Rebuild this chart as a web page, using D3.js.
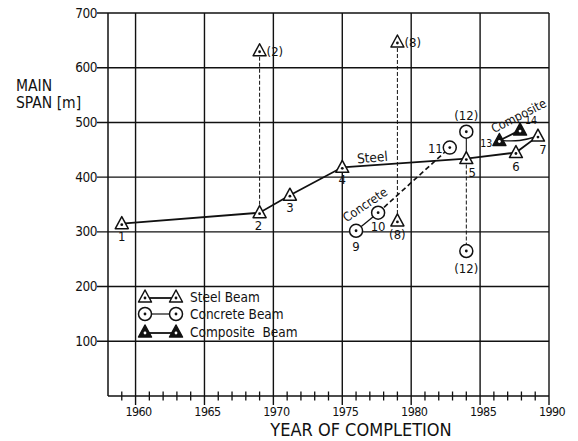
<!DOCTYPE html>
<html><head><meta charset="utf-8">
<script src="https://cdn.jsdelivr.net/npm/d3@7"></script>
<style>
html,body{margin:0;padding:0;background:#fff;}
svg text{font-family:"DejaVu Sans Condensed","DejaVu Sans",sans-serif;fill:#111;}
</style></head>
<body><svg id="c" width="578" height="441"></svg>
<script>
// ---- data ----
const xTicks = [1960, 1965, 1970, 1975, 1980, 1985, 1990];
const yTicks = [100, 200, 300, 400, 500, 600, 700];
const steelYears = [1959, 1969, 1971.2, 1975, 1984, 1987.6, 1989.2];
const steelSpans = [315, 335, 367, 418, 434, 445, 475];
const steelLabels = ["1", "2", "3", "4", "5", "6", "7"];
const steelOutYears = [1969, 1979, 1979];
const steelOutSpans = [631, 647, 320];
const steelOutLabels = ["(2)", "(8)", "(8)"];
const concreteYears = [1976, 1977.6, 1982.8];
const concreteSpans = [302, 335, 454];
const concreteLabels = ["9", "10", "11"];
const concreteOutYears = [1984, 1984];
const concreteOutSpans = [483, 265];
const concreteOutLabels = ["(12)", "(12)"];
const compositeYears = [1986.4, 1987.9];
const compositeSpans = [467, 486];
const compositeLabels = ["13", "14"];
const legendLabels = ["Steel Beam", "Concrete Beam", "Composite  Beam"];

// ---- drawing ----
const svg = d3.select("#c");
const x = d3.scaleLinear().domain([1958, 1990]).range([108, 549]);
const y = d3.scaleLinear().domain([0, 700]).range([396, 13]);
const ink = "#111";

// grid
const g = svg.append("g");
g.selectAll(".hg").data(yTicks).join("line")
  .attr("x1", x(1958) - 11).attr("x2", x(1990))
  .attr("y1", d => y(d)).attr("y2", d => y(d))
  .attr("stroke", ink).attr("stroke-width", 1.4);
g.selectAll(".vg").data(xTicks).join("line")
  .attr("x1", d => x(d)).attr("x2", d => x(d))
  .attr("y1", y(700)).attr("y2", y(0) + 9)
  .attr("stroke", ink).attr("stroke-width", 1.4);
// frame left + bottom
g.append("line").attr("x1", x(1958)).attr("x2", x(1958)).attr("y1", y(700)).attr("y2", y(0))
  .attr("stroke", ink).attr("stroke-width", 1.5);
g.append("line").attr("x1", x(1958)).attr("x2", x(1990)).attr("y1", y(0)).attr("y2", y(0))
  .attr("stroke", ink).attr("stroke-width", 1.5);
// minor ticks
const minor = d3.range(1959, 1990).filter(v => v % 5 !== 0);
g.selectAll(".mt").data(minor).join("line")
  .attr("x1", d => x(d)).attr("x2", d => x(d))
  .attr("y1", y(0) - 4.5).attr("y2", y(0) + 4.5)
  .attr("stroke", ink).attr("stroke-width", 1.3);

// tick labels
svg.selectAll(".xl").data(xTicks).join("text")
  .attr("x", d => x(d) + 3).attr("y", y(0) + 19.5)
  .attr("text-anchor", "middle").attr("font-size", 12.5).attr("letter-spacing", -0.6)
  .text(d => d);
svg.selectAll(".yl").data(yTicks).join("text")
  .attr("x", x(1958) - 11).attr("y", d => y(d) + 4.5)
  .attr("text-anchor", "end").attr("font-size", 13.5).attr("letter-spacing", -0.5)
  .text(d => d);

// axis titles
svg.append("text").attr("x", 16).attr("y", 90.5).attr("font-size", 15.5).attr("font-family", "DejaVu Sans").text("MAIN");
svg.append("text").attr("x", 16).attr("y", 107.5).attr("font-size", 15.5).attr("font-family", "DejaVu Sans").text("SPAN [m]");
svg.append("text").attr("x", 361).attr("y", 436).attr("text-anchor", "middle")
  .attr("font-size", 18).attr("font-family", "DejaVu Sans").text("YEAR OF COMPLETION");

// markers
function tri(sel, cx, cy, filled) {
  const p = d3.path();
  p.moveTo(cx, cy - 7); p.lineTo(cx + 6.5, cy + 5); p.lineTo(cx - 6.5, cy + 5); p.closePath();
  sel.append("path").attr("d", p.toString()).attr("fill", filled ? ink : "#fff")
    .attr("stroke", ink).attr("stroke-width", 1.5).attr("stroke-linejoin", "round");
  sel.append("circle").attr("cx", cx).attr("cy", cy + 1).attr("r", 1.4).attr("fill", filled ? "#fff" : ink);
}
function circ(sel, cx, cy) {
  sel.append("circle").attr("cx", cx).attr("cy", cy).attr("r", 6.5).attr("fill", "#fff")
    .attr("stroke", ink).attr("stroke-width", 1.5);
  sel.append("circle").attr("cx", cx).attr("cy", cy).attr("r", 1.4).attr("fill", ink);
}

const line = d3.line().x(d => x(d[0])).y(d => y(d[1]));
const L = svg.append("g");
// dashed verticals
L.append("path").attr("d", line([[steelOutYears[0], steelOutSpans[0]], [steelYears[1], steelSpans[1]]]))
  .attr("stroke", ink).attr("stroke-width", 1).attr("stroke-dasharray", "4,2").attr("fill", "none");
L.append("path").attr("d", line([[steelOutYears[1], steelOutSpans[1]], [steelOutYears[2], steelOutSpans[2]]]))
  .attr("stroke", ink).attr("stroke-width", 1).attr("stroke-dasharray", "4,2").attr("fill", "none");
L.append("path").attr("d", line([[concreteOutYears[0], concreteOutSpans[0]], [steelYears[4], steelSpans[4]]]))
  .attr("stroke", ink).attr("stroke-width", 1.1).attr("fill", "none");
L.append("path").attr("d", line([[steelYears[4], steelSpans[4]], [concreteOutYears[1], concreteOutSpans[1]]]))
  .attr("stroke", ink).attr("stroke-width", 1).attr("stroke-dasharray", "4,2").attr("fill", "none");

// steel line
const steelPts = steelYears.map((v, i) => [v, steelSpans[i]]);
L.append("path").attr("d", line(steelPts)).attr("stroke", ink).attr("stroke-width", 1.8).attr("fill", "none");
// concrete line
const concPts = concreteYears.map((v, i) => [v, concreteSpans[i]]);
L.append("path").attr("d", line(concPts.slice(0, 2))).attr("stroke", ink).attr("stroke-width", 1.3).attr("fill", "none");
L.append("path").attr("d", line(concPts.slice(1))).attr("stroke", ink).attr("stroke-width", 1.6)
  .attr("stroke-dasharray", "5,3").attr("fill", "none");
// composite line
const compPts = compositeYears.map((v, i) => [v, compositeSpans[i]]);
L.append("path").attr("d", line(compPts)).attr("stroke", ink).attr("stroke-width", 1.8).attr("fill", "none");
L.append("path").attr("d", d3.line().curve(d3.curveBasis).x(d => x(d[0])).y(d => y(d[1]))(
  [compPts[0], [compositeYears[1], compositeSpans[0] - 2], steelPts[6]]))
  .attr("stroke", ink).attr("stroke-width", 1.4).attr("fill", "none");

// points
const P = svg.append("g");
steelPts.forEach(d => tri(P, x(d[0]), y(d[1]), false));
steelOutYears.forEach((v, i) => tri(P, x(v), y(steelOutSpans[i]), false));
concPts.forEach(d => circ(P, x(d[0]), y(d[1])));
concreteOutYears.forEach((v, i) => circ(P, x(v), y(concreteOutSpans[i])));
compPts.forEach(d => tri(P, x(d[0]), y(d[1]), true));

// point labels (offsets in px)
const T = svg.append("g").attr("font-size", 13);
function lab(txt, cx, cy, dx, dy, anchor, fs) {
  const t = T.append("text").attr("x", cx + dx).attr("y", cy + dy).attr("text-anchor", anchor || "middle").text(txt);
  if (fs) t.attr("font-size", fs);
}
const steelOff = [[0, 17], [-1, 17], [0, 17], [0, 17], [6, 18], [0, 18], [5, 18]];
steelLabels.forEach((t, i) => lab(t, x(steelYears[i]), y(steelSpans[i]), steelOff[i][0], steelOff[i][1]));
const soOff = [[7, 5, "start"], [7, 5, "start"], [0, 18, "middle"]];
steelOutLabels.forEach((t, i) => lab(t, x(steelOutYears[i]), y(steelOutSpans[i]), soOff[i][0], soOff[i][1], soOff[i][2]));
const cOff = [[0, 20, "middle"], [0, 18, "middle"], [-7, 5, "end"]];
concreteLabels.forEach((t, i) => lab(t, x(concreteYears[i]), y(concreteSpans[i]), cOff[i][0], cOff[i][1], cOff[i][2]));
const coOff = [[0, -12], [0, 22]];
concreteOutLabels.forEach((t, i) => lab(t, x(concreteOutYears[i]), y(concreteOutSpans[i]), coOff[i][0], coOff[i][1]));
const mOff = [[-7, 7, "end"], [5, -6, "start"]];
compositeLabels.forEach((t, i) => lab(t, x(compositeYears[i]), y(compositeSpans[i]), mOff[i][0], mOff[i][1], mOff[i][2], 10.5));

// series names along lines
svg.append("text").attr("transform", `translate(${x(1976.1)},${y(425)}) rotate(-5)`)
  .attr("font-size", 13.5).text("Steel");
svg.append("text").attr("transform", `translate(${x(1975.3)},${y(317)}) rotate(-34)`)
  .attr("font-size", 12.5).text("Concrete");
svg.append("text").attr("transform", `translate(${x(1986.0)},${y(480)}) rotate(-27)`)
  .attr("font-size", 12.5).text("Composite");

// legend
const LG = svg.append("g");
const lgY = [297, 314, 332];
lgY.forEach((yy, i) => {
  LG.append("line").attr("x1", 145).attr("x2", 176).attr("y1", yy + (i === 1 ? 0 : 1)).attr("y2", yy + (i === 1 ? 0 : 1))
    .attr("stroke", ink).attr("stroke-width", i === 1 ? 1.2 : 1.8);
  [145, 176].forEach(cx => {
    if (i === 1) circ(LG, cx, yy); else tri(LG, cx, yy, i === 2);
  });
  LG.append("text").attr("x", 190).attr("y", yy + 5).attr("font-size", 13.5).attr("xml:space", "preserve")
    .style("white-space", "pre").text(legendLabels[i]);
});
</script></body></html>
